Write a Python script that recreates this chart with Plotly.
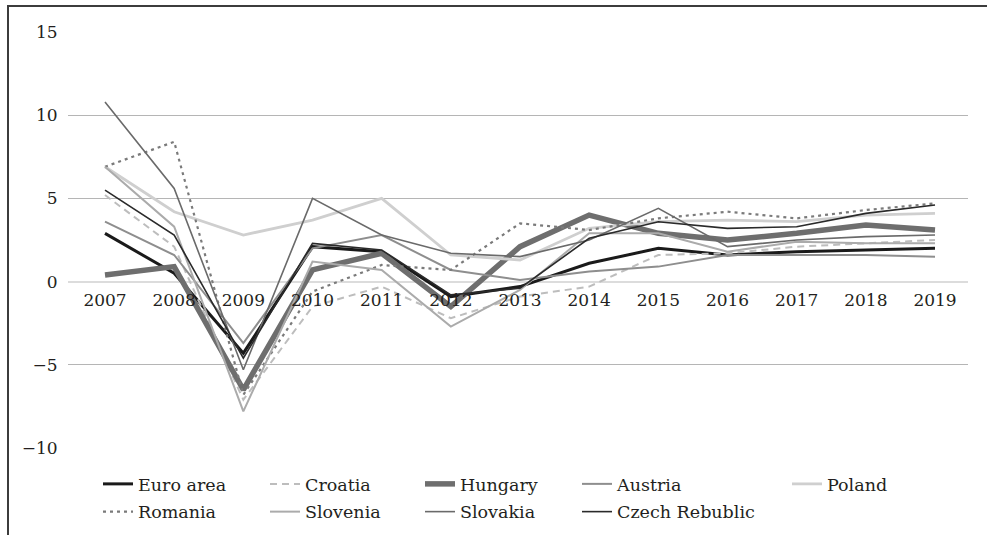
import plotly.graph_objects as go

years = ["2007", "2008", "2009", "2010", "2011", "2012", "2013",
         "2014", "2015", "2016", "2017", "2018", "2019"]

euro_area = [2.9, 0.5, -4.3, 2.1, 1.8, -0.9, -0.3, 1.1, 2.0, 1.6, 1.8, 1.9, 2.0]
croatia   = [5.2, 2.1, -7.1, -1.5, -0.3, -2.2, -0.9, -0.3, 1.6, 1.7, 2.1, 2.3, 2.5]
hungary   = [0.4, 0.9, -6.5, 0.7, 1.7, -1.5, 2.1, 4.0, 2.9, 2.5, 2.9, 3.4, 3.1]
austria   = [3.6, 1.6, -3.7, 2.0, 2.8, 0.7, 0.1, 0.6, 0.9, 1.6, 1.6, 1.6, 1.5]
poland    = [6.9, 4.2, 2.8, 3.7, 5.0, 1.6, 1.3, 3.2, 3.6, 3.7, 3.6, 4.0, 4.1]
romania   = [6.9, 8.4, -6.8, -0.6, 1.0, 0.7, 3.5, 3.1, 3.8, 4.2, 3.8, 4.3, 4.7]
slovenia  = [6.9, 3.3, -7.8, 1.2, 0.7, -2.7, -0.5, 2.9, 2.9, 1.8, 2.4, 2.3, 2.3]
slovakia  = [10.8, 5.6, -5.3, 5.0, 2.8, 1.7, 1.5, 2.5, 4.4, 2.1, 2.5, 2.7, 2.8]
czech     = [5.5, 2.8, -4.6, 2.3, 1.9, -0.8, -0.4, 2.6, 3.6, 3.2, 3.3, 4.1, 4.6]

y_ticks = [-10, -5, 0, 5, 10, 15]

FONT = "DejaVu Serif"
TXT = "#231f20"

# px geometry of the plot area
L, R, T, B = 68, 968, 32, 448
W, H = 987, 535
PW, PH = R - L, B - T

def px_x(px):
    return (px - L) / PW

def px_y(py):
    return (B - py) / PH

series = [
    ("Euro area", euro_area, dict(color="#1a1a1a", width=3), "legend"),
    ("Croatia", croatia, dict(color="#bdbdbd", width=2, dash="7px,5px"), "legend2"),
    ("Hungary", hungary, dict(color="#6e6e6e", width=5.5), "legend3"),
    ("Austria", austria, dict(color="#8e8e8e", width=2), "legend4"),
    ("Poland", poland, dict(color="#cfcfcf", width=2.8), "legend5"),
    ("Romania", romania, dict(color="#7a7a7a", width=2.2, dash="3px,4px"), "legend"),
    ("Slovenia", slovenia, dict(color="#ababab", width=2), "legend2"),
    ("Slovakia", slovakia, dict(color="#6a6a6a", width=1.6), "legend3"),
    ("Czech Rebublic", czech, dict(color="#2a2a2a", width=1.6), "legend4"),
]

fig = go.Figure()
for name, vals, line, lg in series:
    fig.add_trace(go.Scatter(
        x=years, y=vals, name=name, mode="lines", line=line,
        legend=lg, legendgroup=name,
    ))

legend_cols = [103, 270, 425, 582, 792]
legend_keys = ["legend", "legend2", "legend3", "legend4", "legend5"]
legend_top = 466
layout_legends = {}
for key, sx in zip(legend_keys, legend_cols):
    layout_legends[key] = dict(
        x=px_x(sx - 5), y=px_y(legend_top), xanchor="left", yanchor="top",
        orientation="v", bgcolor="rgba(0,0,0,0)", borderwidth=0,
        font=dict(family=FONT, size=17.5, color=TXT),
        traceorder="grouped", tracegroupgap=2, itemwidth=30,
    )

fig.update_layout(
    width=W, height=H,
    margin=dict(l=L, r=W - R, t=T, b=H - B, autoexpand=False),
    paper_bgcolor="white", plot_bgcolor="white",
    showlegend=True,
    font=dict(family=FONT, size=17, color=TXT),
    xaxis=dict(
        type="category", range=[-0.535, 12.477],
        anchor="free", position=10 / 25,
        showgrid=False, showline=False, zeroline=False,
        ticks="outside", ticklen=3, tickcolor="rgba(0,0,0,0)",
        tickfont=dict(family=FONT, size=17, color=TXT),
    ),
    yaxis=dict(
        range=[-10, 15], tickvals=y_ticks,
        showgrid=True, gridcolor="#b5b5b5", gridwidth=1.4,
        zeroline=True, zerolinecolor="#dcdcdc", zerolinewidth=1.6,
        showline=False, ticks="outside", ticklen=6, tickcolor="rgba(0,0,0,0)",
        tickfont=dict(family=FONT, size=17, color=TXT),
    ),
    shapes=[
        dict(type="line", xref="paper", yref="paper",
             x0=px_x(8), x1=px_x(W + 2), y0=px_y(6), y1=px_y(6),
             line=dict(color="#3c3c3c", width=2)),
        dict(type="line", xref="paper", yref="paper",
             x0=px_x(8), x1=px_x(8), y0=px_y(5), y1=px_y(H + 2),
             line=dict(color="#3c3c3c", width=2)),
    ],
    **layout_legends,
)

fig.write_html(
    "out.html",
    config={"displayModeBar": False},
    post_script="document.body.style.margin='0px';document.body.style.overflow='hidden';",
)
